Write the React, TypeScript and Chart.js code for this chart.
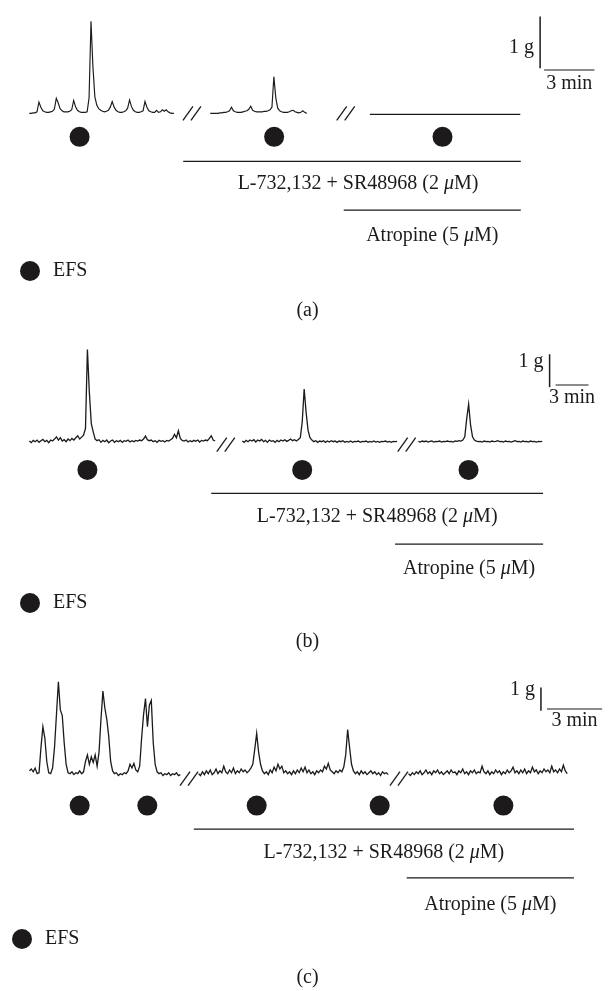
import React, { useEffect, useRef } from "react";
import { Chart, registerables } from "chart.js";

Chart.register(...registerables);

const FIG_W = 615;
const FONT_FAMILY = '"Liberation Serif", "Times New Roman", serif';
const INK = "#1c1a1b";

// ---------------- Panel (a) : force (g) sampled every A_DT minutes ----------------
const A_DT = 0.115;
const A_SEG_START = [1.15, 11.94, 21.46];
const A_SEG1 = [
  0, 0, 0.01, 0.01, 0.03, 0.22, 0.12, 0.05, 0.03, 0.02,
  0.02, 0.03, 0.04, 0.08, 0.29, 0.2, 0.09, 0.05, 0.03, 0.03,
  0.03, 0.04, 0.07, 0.25, 0.13, 0.06, 0.03, 0.02, 0.02, 0.02,
  0.03, 0.3, 1.78, 0.9, 0.32, 0.16, 0.09, 0.06, 0.04, 0.03,
  0.04, 0.06, 0.12, 0.23, 0.12, 0.06, 0.03, 0.02, 0.02, 0.03,
  0.05, 0.1, 0.26, 0.13, 0.06, 0.03, 0.02, 0.02, 0.03, 0.05,
  0.23, 0.12, 0.05, 0.03, 0.02, 0.02, 0.06, 0.02, 0.03, 0.07,
  0.04, 0.07, 0.03, 0.01, 0, 0,
];
const A_SEG2 = [
  0, 0, 0, 0, 0, 0.01, 0.01, 0.02, 0.02, 0.03,
  0.05, 0.12, 0.05, 0.03, 0.02, 0.02, 0.02, 0.03, 0.04, 0.05,
  0.08, 0.14, 0.06, 0.04, 0.03, 0.03, 0.03, 0.03, 0.04, 0.04,
  0.05, 0.07, 0.12, 0.71, 0.3, 0.1, 0.05, 0.03, 0.02, 0.02,
  0.02, 0.03, 0.05, 0.06, 0.03, 0.02, 0.01, 0.02, 0.05, 0.02,
  0,
];
// after atropine the trace is flat
const A_SEG3 = [
  -0.02, -0.02, -0.02, -0.02, -0.02, -0.02, -0.02, -0.02, -0.02, -0.02,
  -0.02, -0.02, -0.02, -0.02, -0.02, -0.02, -0.02, -0.02, -0.02, -0.02,
  -0.02, -0.02, -0.02, -0.02, -0.02, -0.02, -0.02, -0.02, -0.02, -0.02,
  -0.02, -0.02, -0.02, -0.02, -0.02, -0.02, -0.02, -0.02, -0.02, -0.02,
  -0.02, -0.02, -0.02, -0.02, -0.02, -0.02, -0.02, -0.02, -0.02, -0.02,
  -0.02, -0.02, -0.02, -0.02, -0.02, -0.02, -0.02, -0.02, -0.02, -0.02,
  -0.02, -0.02, -0.02, -0.02, -0.02, -0.02, -0.02, -0.02, -0.02, -0.02,
  -0.02, -0.02, -0.02, -0.02, -0.02, -0.02, -0.02, -0.02, -0.02,
];
const A_EFS = [4.15, 15.75, 25.79];
const A_BREAKS = [10.85, 20.02];
const A_DRUG_L = [10.33, 30.46];
const A_DRUG_ATR = [19.9, 30.46];
const A_SCALE_T = 31.85; // start of 3-min bar
const A_SCALE_G = 0.873; // bottom of 1-g bar

// ---------------- Panel (b) ----------------
const B_DT = 0.1765;
const B_SEG_START = [1.765, 21.18, 37.24];
const B_SEG1 = [
  0.02, -0.03, 0.04, 0, 0.05, -0.02, 0.03, 0.07, 0, 0.04,
  -0.03, 0.05, 0.02, 0.08, 0.15, 0.05, 0.12, 0.02, 0.06, 0,
  0.08, 0.03, 0.1, 0.05, 0.12, 0.18, 0.08, 0.14, 0.2, 0.4,
  2.8, 1.5, 0.55, 0.3, 0.08, 0.03, 0.06, -0.02, 0.04, 0,
  0.05, -0.03, 0.02, 0.05, -0.02, 0.03, 0, 0.04, -0.02, 0.03,
  0.01, 0.05, -0.01, 0.03, 0, 0.04, 0.02, 0.05, 0.03, 0.08,
  0.17, 0.06, 0.03, 0.05, 0, 0.03, -0.02, 0.04, 0.01, 0.03,
  -0.01, 0.04, 0.02, 0.06, 0.1, 0.22, 0.12, 0.33, 0.1, 0.04,
  0.02, 0.05, -0.01, 0.03, 0, 0.04, 0.01, 0.05, -0.01, 0.04,
  0.02, 0.05, 0.03, 0.1, 0.18, 0.05, 0.02,
];
const B_SEG2 = [
  0.02, -0.02, 0.04, 0, 0.05, 0.02, 0.06, -0.01, 0.05, 0.02,
  0.07, 0, 0.04, -0.02, 0.05, 0.01, 0.03, -0.02, 0.04, 0,
  0.05, 0.02, 0.06, 0.01, 0.04, 0.08, 0.03, 0.06, 0.02, 0.07,
  0.12, 0.6, 1.6, 0.9, 0.35, 0.12, 0.05, 0, 0.03, -0.02,
  0.02, 0, 0.03, -0.02, 0.02, -0.01, 0.03, 0, 0.02, -0.02,
  0.02, 0, 0.03, -0.02, 0.01, -0.01, 0.02, -0.02, 0.01, 0,
  0.02, -0.02, 0.01, 0, 0.02, -0.02, 0.01, -0.01, 0.02, -0.01,
  0.01, -0.02, 0.01, 0, 0.02, -0.01, 0.01, -0.02, 0.01, 0,
  0.01,
];
const B_SEG3 = [
  0.01, -0.01, 0.02, 0, 0.02, -0.01, 0.01, 0.02, -0.01, 0.01,
  0, 0.02, -0.01, 0.01, 0, 0.02, 0, 0.01, -0.01, 0.02,
  0.01, 0.03, 0.02, 0.05, 0.15, 0.7, 1.14, 0.5, 0.15, 0.05,
  0.02, 0, 0.01, -0.01, 0.02, 0, 0.01, -0.01, 0.02, 0,
  0.01, 0.03, 0, 0.01, -0.01, 0.02, 0, 0.01, -0.01, 0.01,
  0.03, 0, 0.01, -0.01, 0.02, 0, 0.01, -0.01, 0.02, 0,
  0.01, -0.01, 0.01, 0, 0.01,
];
const B_EFS = [7.06, 26.65, 41.82];
const B_BREAKS = [19.68, 36.18];
const B_DRUG_L = [18.35, 48.62];
const B_DRUG_ATR = [35.12, 48.62];
const B_SCALE_T = 49.76;
const B_SCALE_G = 1.657;

// ---------------- Panel (c) ----------------
const C_DT = 0.1053;
const C_SEG_START = [1.053, 10.26, 21.68];
const C_SEG1 = [
  0.2, 0.28, 0.16, 0.32, 0.08, 0.12, 1.2, 2.08, 1.6, 0.6,
  0.12, 0.08, 0.32, 1.2, 2.6, 4.0, 2.8, 2.56, 1.4, 0.48,
  0.12, 0.08, 0.16, 0.04, 0.12, 0.08, 0.2, 0.08, 0.16, 0.6,
  0.88, 0.48, 0.8, 0.56, 0.88, 0.4, 1.0, 2.4, 3.6, 2.88,
  2.4, 1.68, 0.6, 0.2, 0.08, 0.12, 0, 0.08, 0.04, 0.12,
  0.08, 0.2, 0.48, 0.32, 0.52, 0.24, 0.16, 0.4, 1.6, 2.6,
  3.28, 2.08, 3.0, 3.2, 1.4, 0.48, 0.16, 0.08, 0.12, 0,
  0.08, 0.04, 0.12, 0, 0.08, 0.04, 0.12, 0, 0.04,
];
const C_SEG2 = [
  0.08, 0, 0.16, 0.04, 0.2, 0.08, 0.24, 0.04, 0.12, 0.28,
  0.08, 0.2, 0.12, 0.4, 0.16, 0.08, 0.24, 0.12, 0.32, 0.08,
  0.2, 0.12, 0.28, 0.16, 0.24, 0.12, 0.2, 0.32, 0.48, 1.12,
  1.8, 1.0, 0.48, 0.2, 0.08, 0.16, 0.04, 0.24, 0.12, 0.36,
  0.2, 0.48, 0.28, 0.4, 0.12, 0.2, 0.08, 0.16, 0.04, 0.2,
  0.08, 0.24, 0.12, 0.32, 0.16, 0.36, 0.12, 0.24, 0.08, 0.16,
  0.04, 0.2, 0.12, 0.24, 0.16, 0.4, 0.28, 0.52, 0.24, 0.16,
  0.08, 0.2, 0.12, 0.24, 0.16, 0.36, 0.88, 1.96, 1.2, 0.48,
  0.2, 0.08, 0.16, 0.04, 0.2, 0.08, 0.16, 0.04, 0.12, 0.2,
  0.08, 0.16, 0.04, 0.12, 0, 0.16, 0.08, 0.12, 0.04,
];
const C_SEG3 = [
  0.08, 0, 0.12, 0.04, 0.16, 0.08, 0.2, 0.04, 0.12, 0.24,
  0.08, 0.16, 0.04, 0.2, 0.12, 0.24, 0.08, 0.16, 0.04, 0.12,
  0.2, 0.08, 0.24, 0.12, 0.16, 0.04, 0.2, 0.12, 0.28, 0.08,
  0.16, 0.04, 0.2, 0.12, 0.24, 0.08, 0.16, 0.12, 0.4, 0.16,
  0.08, 0.2, 0.04, 0.16, 0.08, 0.24, 0.12, 0.2, 0.04, 0.16,
  0.08, 0.24, 0.12, 0.2, 0.36, 0.12, 0.2, 0.08, 0.24, 0.12,
  0.28, 0.08, 0.2, 0.12, 0.36, 0.16, 0.24, 0.08, 0.2, 0.12,
  0.28, 0.16, 0.24, 0.12, 0.4, 0.16, 0.24, 0.12, 0.28, 0.16,
  0.44, 0.2, 0.08,
];
const C_EFS = [3.79, 7.47, 13.42, 20.11, 26.84];
const C_BREAKS = [9.74, 21.16];
const C_DRUG_L = [10.0, 30.68];
const C_DRUG_ATR = [21.58, 30.68];
const C_SCALE_T = 29.21;
const C_SCALE_G = 2.76;

// ---------------- labels ----------------
const DRUG_L_LABEL: [string, boolean][] = [["L-732,132 + SR48968 (2 ", false], ["\u03bc", true], ["M)", false]];
const DRUG_ATR_LABEL: [string, boolean][] = [["Atropine (5 ", false], ["\u03bc", true], ["M)", false]];
const LEGEND_LABEL = "EFS";
const SCALE_G_LABEL = "1 g";
const SCALE_T_LABEL = "3 min";
const SCALE_T_MIN = 3;
const SCALE_G_VAL = 1;

type PanelData = {
  label: string;
  dt: number;
  segStarts: number[];
  segs: number[][];
  efs: number[];
  breaks: number[];
  drugL: number[];
  drugAtr: number[];
  scaleT: number;
  scaleG: number;
};

type Layout = {
  top: number;
  height: number;
  pxPerMin: number;
  pxPerG: number;
  baseline: number;
  dotY: number;
  lBarY: number;
  lTextY: number;
  lTextDx: number;
  atrBarY: number;
  atrTextY: number;
  legendX: number;
  legendY: number;
  labelY: number;
  hBarY: number;
  gTextY: number;
  minTextY: number;
  vBarGap: number;
  breakDy: number;
  lineW: number;
};

const PANELS: { data: PanelData; lay: Layout }[] = [
  {
    data: {
      label: "(a)", dt: A_DT, segStarts: A_SEG_START, segs: [A_SEG1, A_SEG2, A_SEG3],
      efs: A_EFS, breaks: A_BREAKS, drugL: A_DRUG_L, drugAtr: A_DRUG_ATR,
      scaleT: A_SCALE_T, scaleG: A_SCALE_G,
    },
    lay: {
      top: 0, height: 332, pxPerMin: 52 / 3, pxPerG: 55, baseline: 110, dotY: 135,
      lBarY: 161, lTextY: 184, lTextDx: 6, atrBarY: 213, atrTextY: 236, legendX: 30, legendY: 271,
      labelY: 311, hBarY: 70, gTextY: 48, minTextY: 84, vBarGap: 4, breakDy: 0, lineW: 1.15,
    },
  },
  {
    data: {
      label: "(b)", dt: B_DT, segStarts: B_SEG_START, segs: [B_SEG1, B_SEG2, B_SEG3],
      efs: B_EFS, breaks: B_BREAKS, drugL: B_DRUG_L, drugAtr: B_DRUG_ATR,
      scaleT: B_SCALE_T, scaleG: B_SCALE_G,
    },
    lay: {
      top: 332, height: 336, pxPerMin: 34 / 3, pxPerG: 35, baseline: 106, dotY: 136,
      lBarY: 161, lTextY: 185, lTextDx: 0, atrBarY: 215, atrTextY: 237, legendX: 30, legendY: 271,
      labelY: 310, hBarY: 53, gTextY: 30, minTextY: 66, vBarGap: 6, breakDy: 3, lineW: 1.3,
    },
  },
  {
    data: {
      label: "(c)", dt: C_DT, segStarts: C_SEG_START, segs: [C_SEG1, C_SEG2, C_SEG3],
      efs: C_EFS, breaks: C_BREAKS, drugL: C_DRUG_L, drugAtr: C_DRUG_ATR,
      scaleT: C_SCALE_T, scaleG: C_SCALE_G,
    },
    lay: {
      top: 668, height: 323, pxPerMin: 19, pxPerG: 25, baseline: 104, dotY: 136,
      lBarY: 161, lTextY: 185, lTextDx: 0, atrBarY: 213, atrTextY: 237, legendX: 22, legendY: 271,
      labelY: 310, hBarY: 41, gTextY: 22, minTextY: 53, vBarGap: 6, breakDy: 3, lineW: 1.3,
    },
  },
];

function drawParts(
  ctx: CanvasRenderingContext2D,
  parts: [string, boolean][],
  x: number,
  y: number,
  align: "left" | "center" | "right",
  size = 20
) {
  const fontN = `${size}px ${FONT_FAMILY}`;
  const fontI = `italic ${size}px ${FONT_FAMILY}`;
  const widths = parts.map(([t, it]) => {
    ctx.font = it ? fontI : fontN;
    return ctx.measureText(t).width;
  });
  const total = widths.reduce((a, b) => a + b, 0);
  let cx = align === "center" ? x - total / 2 : align === "right" ? x - total : x;
  ctx.textAlign = "left";
  ctx.textBaseline = "middle";
  parts.forEach(([t, it], i) => {
    ctx.font = it ? fontI : fontN;
    ctx.fillText(t, cx, y);
    cx += widths[i];
  });
}

function makeOverlay(d: PanelData, lay: Layout) {
  return {
    id: "overlay",
    afterDatasetsDraw(chart: any) {
      const ctx: CanvasRenderingContext2D = chart.ctx;
      const xs = chart.scales.x;
      const ys = chart.scales.y;
      const X = (t: number) => xs.getPixelForValue(t);
      const Y = (g: number) => ys.getPixelForValue(g);
      const line = (x0: number, y0: number, x1: number, y1: number) => {
        ctx.beginPath();
        ctx.moveTo(x0, y0);
        ctx.lineTo(x1, y1);
        ctx.stroke();
      };
      ctx.save();
      ctx.strokeStyle = INK;
      ctx.fillStyle = INK;
      ctx.lineCap = "butt";

      // break marks "//"
      ctx.lineWidth = 1.3;
      const yb = Y(0) + lay.breakDy;
      d.breaks.forEach((t) => {
        const x = X(t);
        [-4, 4].forEach((o) => line(x + o - 5, yb + 7, x + o + 5, yb - 7));
      });

      // scale bars
      const xh0 = X(d.scaleT);
      const xh1 = X(d.scaleT + SCALE_T_MIN);
      const xv = xh0 - lay.vBarGap;
      ctx.lineWidth = 1.5;
      line(xv, Y(d.scaleG), xv, Y(d.scaleG + SCALE_G_VAL));
      ctx.lineWidth = 1.2;
      line(xh0, lay.hBarY, xh1, lay.hBarY);
      drawParts(ctx, [[SCALE_G_LABEL, false]], xv - 6, lay.gTextY, "right");
      drawParts(ctx, [[SCALE_T_LABEL, false]], (xh0 + xh1) / 2, lay.minTextY, "center");

      // drug labels
      drawParts(ctx, DRUG_L_LABEL, (X(d.drugL[0]) + X(d.drugL[1])) / 2 + lay.lTextDx, lay.lTextY, "center");
      drawParts(ctx, DRUG_ATR_LABEL, (X(d.drugAtr[0]) + X(d.drugAtr[1])) / 2, lay.atrTextY, "center");

      // legend
      ctx.beginPath();
      ctx.arc(lay.legendX, lay.legendY, 10, 0, Math.PI * 2);
      ctx.fill();
      drawParts(ctx, [[LEGEND_LABEL, false]], lay.legendX + 23, lay.legendY, "left");

      // panel label
      drawParts(ctx, [[d.label, false]], FIG_W / 2, lay.labelY, "center");
      ctx.restore();
    },
  };
}

function Panel({ data, lay }: { data: PanelData; lay: Layout }) {
  const ref = useRef<HTMLCanvasElement | null>(null);
  useEffect(() => {
    if (!ref.current) return;
    const traceSets = data.segs.map((vals, s) => ({
      data: vals.map((v, i) => ({ x: data.segStarts[s] + i * data.dt, y: v })),
      borderColor: INK,
      borderWidth: lay.lineW,
      pointRadius: 0,
      tension: 0,
      fill: false,
    }));
    const dotLevel = (lay.baseline - lay.dotY) / lay.pxPerG;
    const lLevel = (lay.baseline - lay.lBarY) / lay.pxPerG;
    const atrLevel = (lay.baseline - lay.atrBarY) / lay.pxPerG;
    const datasets: any[] = [
      ...traceSets,
      {
        data: data.efs.map((t) => ({ x: t, y: dotLevel })),
        showLine: false,
        pointRadius: 10,
        pointHoverRadius: 10,
        pointBackgroundColor: INK,
        pointBorderWidth: 0,
        borderWidth: 0,
      },
      {
        data: data.drugL.map((t) => ({ x: t, y: lLevel })),
        borderColor: INK,
        borderWidth: 1.2,
        pointRadius: 0,
      },
      {
        data: data.drugAtr.map((t) => ({ x: t, y: atrLevel })),
        borderColor: INK,
        borderWidth: 1.2,
        pointRadius: 0,
      },
    ];
    const chart = new Chart(ref.current, {
      type: "line",
      data: { datasets },
      options: {
        animation: false,
        responsive: false,
        maintainAspectRatio: false,
        events: [],
        layout: { padding: 0 },
        plugins: { legend: { display: false }, tooltip: { enabled: false } },
        scales: {
          x: { type: "linear", display: false, min: 0, max: FIG_W / lay.pxPerMin },
          y: {
            type: "linear",
            display: false,
            min: -(lay.height - lay.baseline) / lay.pxPerG,
            max: lay.baseline / lay.pxPerG,
          },
        },
      } as any,
      plugins: [makeOverlay(data, lay)],
    });
    return () => chart.destroy();
  }, [data, lay]);
  return (
    <canvas
      ref={ref}
      width={FIG_W}
      height={lay.height}
      style={{ position: "absolute", left: 0, top: lay.top, width: FIG_W, height: lay.height }}
    />
  );
}

export default function App() {
  return (
    <div style={{ position: "absolute", left: 0, top: 0, width: FIG_W, height: 991, background: "#fff" }}>
      {PANELS.map((p, i) => (
        <Panel key={i} data={p.data} lay={p.lay} />
      ))}
    </div>
  );
}
